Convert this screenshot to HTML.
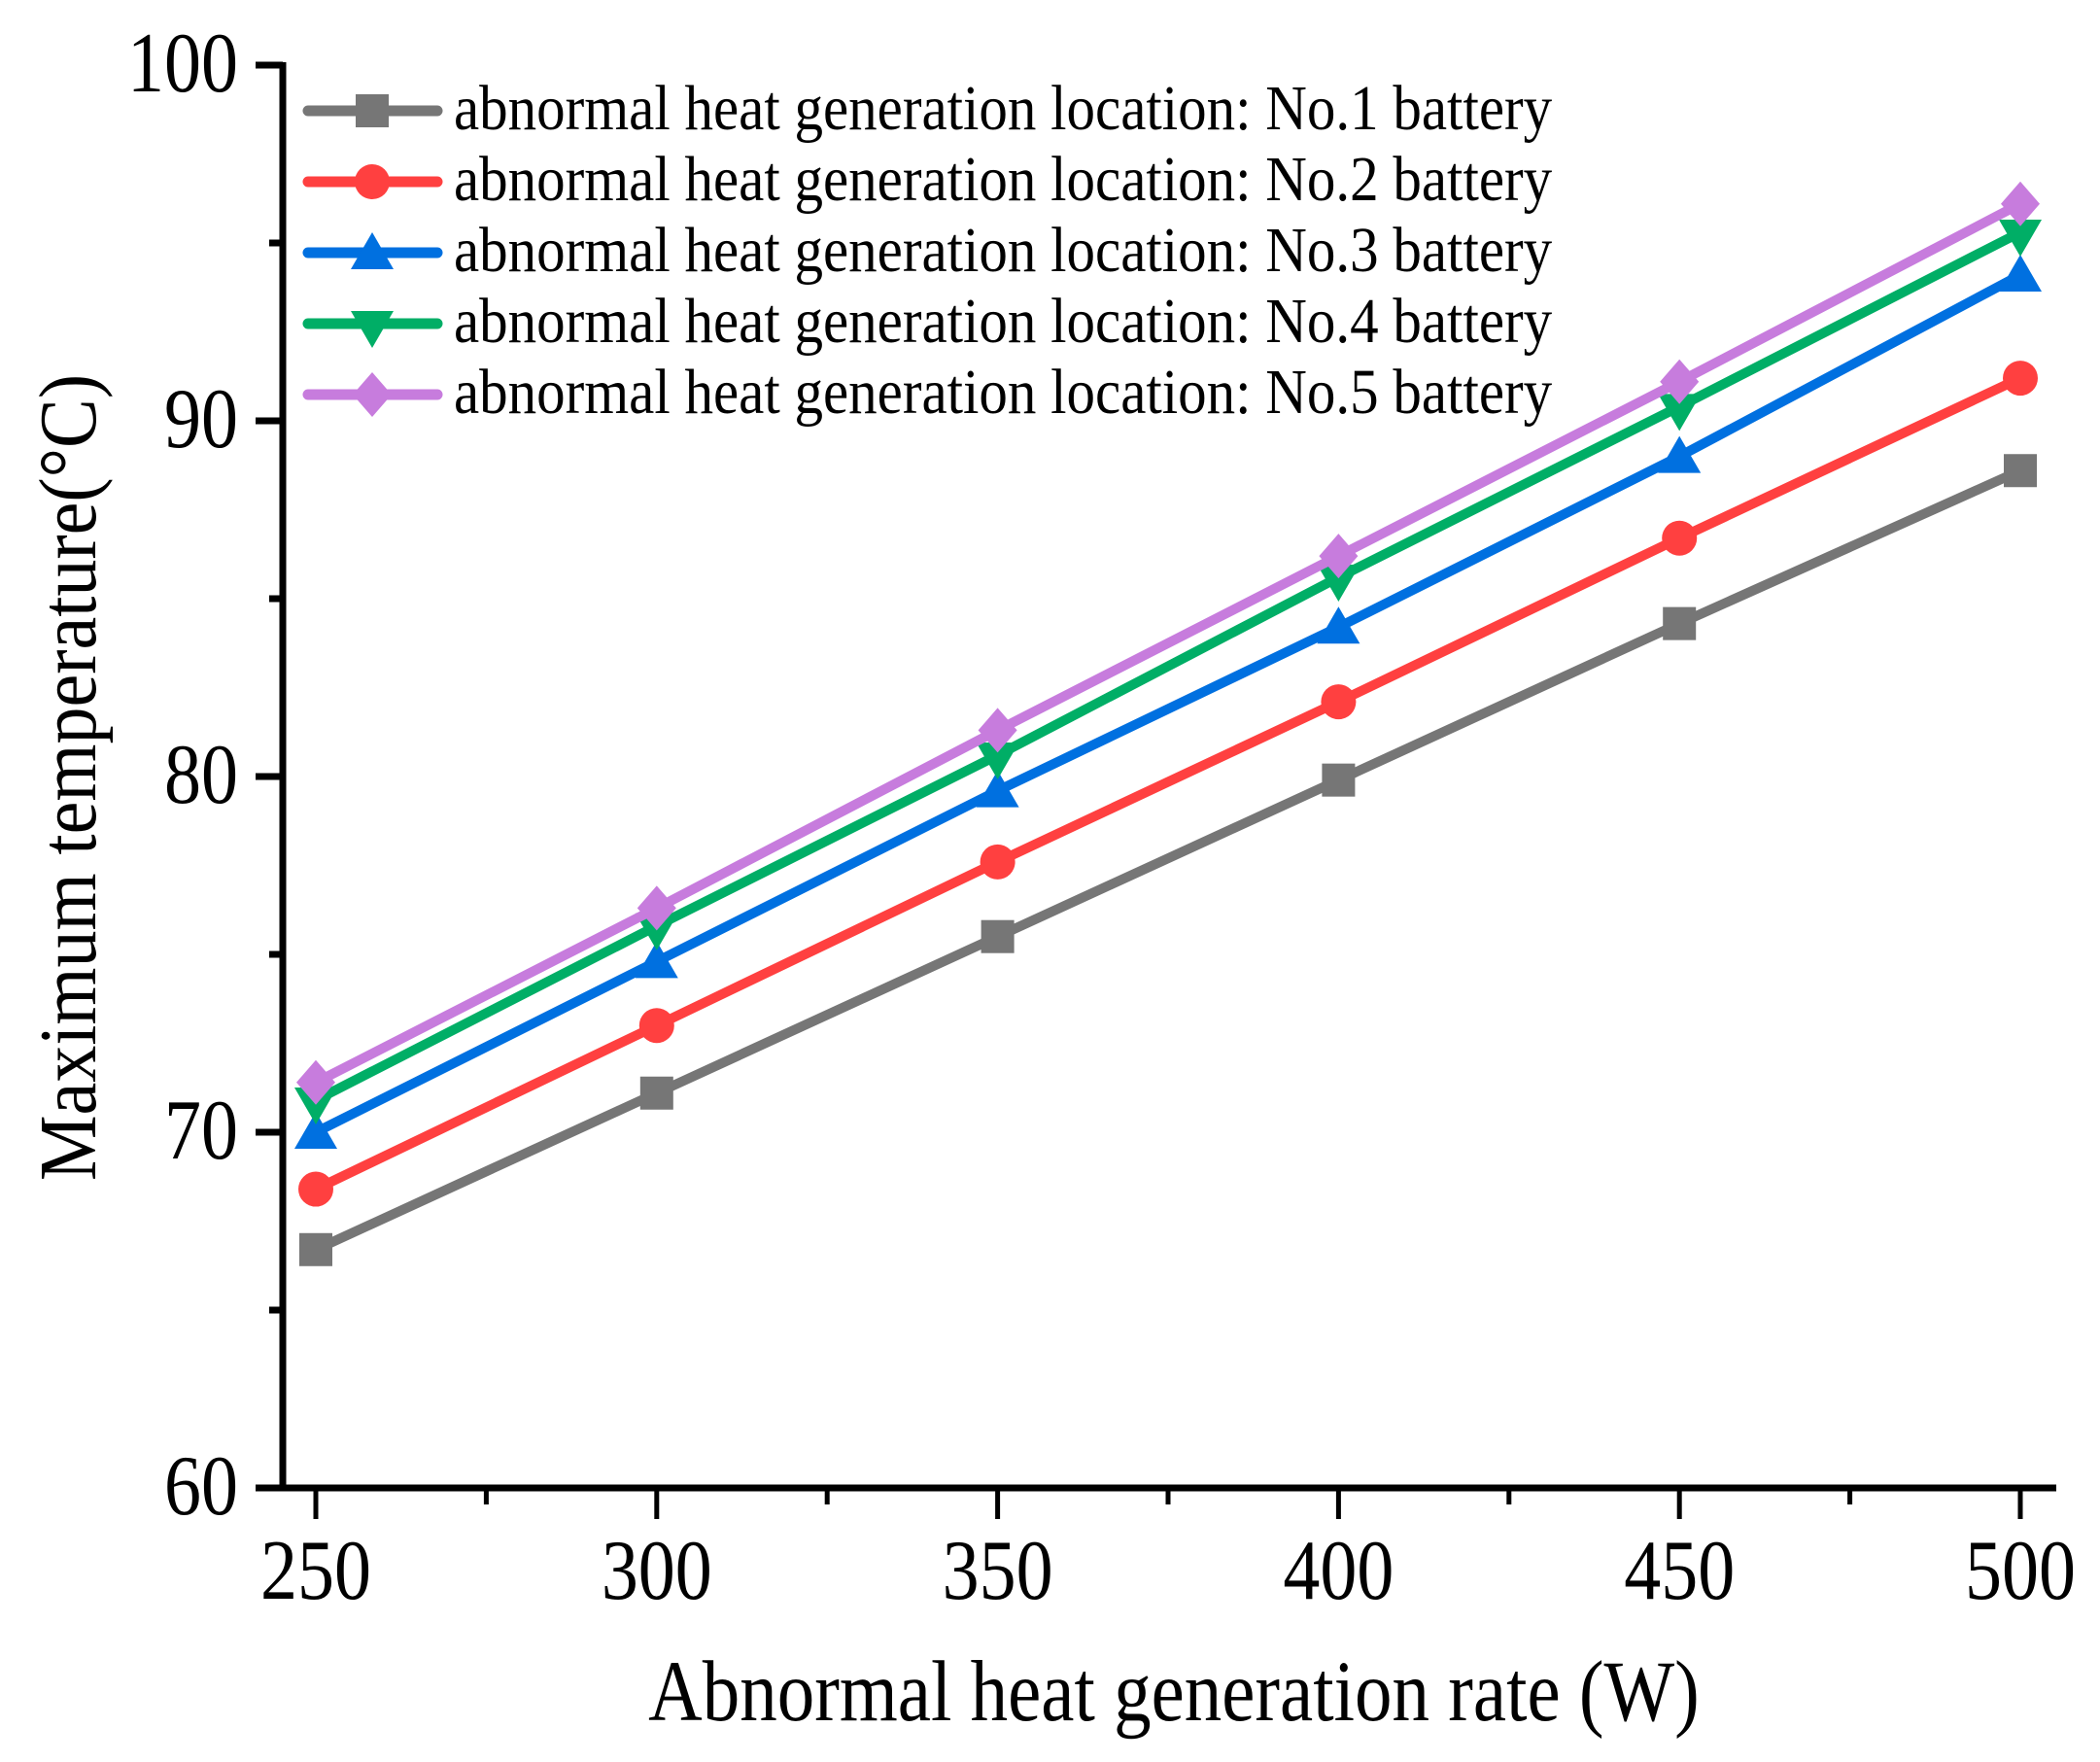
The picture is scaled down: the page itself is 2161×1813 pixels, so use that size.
<!DOCTYPE html>
<html><head><meta charset="utf-8"><style>
html,body{margin:0;padding:0;background:#fff;}
svg{display:block;}
text{font-family:"Liberation Serif",serif;fill:#000;}
</style></head><body>
<svg id="c" width="2161" height="1813" viewBox="0 0 2161 1813" xmlns="http://www.w3.org/2000/svg"></svg>
<script>
const s=document.getElementById('c');
let h='';
const X=i=>325+i*350.8, Y=v=>1531-(v-60)*36.6;
const data=[
 ['#767676','sq',[66.7,71.1,75.5,79.9,84.3,88.6]],
 ['#FF4040','ci',[68.4,73.0,77.6,82.1,86.7,91.2]],
 ['#0070E0','up',[70.0,74.8,79.6,84.2,89.0,94.1]],
 ['#00AE66','dn',[70.9,75.8,80.6,85.6,90.4,95.3]],
 ['#C77CDD','di',[71.4,76.3,81.3,86.2,91.1,96.1]]];
function mk(t,x,y,c){
 if(t=='sq')return `<rect x="${x-17}" y="${y-17}" width="34" height="34" fill="${c}"/>`;
 if(t=='ci')return `<ellipse cx="${x}" cy="${y}" rx="18" ry="18" fill="${c}"/>`;
 if(t=='up')return `<polygon points="${x},${y-21} ${x-22},${y+17} ${x+22},${y+17}" fill="${c}"/>`;
 if(t=='dn')return `<polygon points="${x},${y+25} ${x-22},${y-13} ${x+22},${y-13}" fill="${c}"/>`;
 return `<polygon points="${x},${y-23} ${x-20},${y} ${x},${y+23} ${x+20},${y}" fill="${c}"/>`;
}
function T(x,y,fs,txt,anchor,sy,rot){
 return `<text transform="translate(${x},${y})${rot?' rotate(-90)':''} scale(1,${sy})" font-size="${fs}" text-anchor="${anchor}">${txt}</text>`;
}
h+=`<line x1="291" y1="64" x2="291" y2="1534" stroke="#000" stroke-width="7"/>`;
h+=`<line x1="288" y1="1531" x2="2116" y2="1531" stroke="#000" stroke-width="7"/>`;
for(let v=60;v<=100;v+=5){const y=Y(v);const maj=v%10==0;
 h+=`<line x1="${maj?263:277}" y1="${y}" x2="291" y2="${y}" stroke="#000" stroke-width="7"/>`;
 if(maj)h+=T(245,y+27,76,v,'end',1.15);}
for(let i=0;i<=10;i++){const x=325+i*175.4;const maj=i%2==0;
 h+=`<line x1="${x}" y1="1531" x2="${x}" y2="${maj?1563:1548}" stroke="#000" stroke-width="5"/>`;
 if(maj)h+=T(x,1645,76,250+i*25,'middle',1.15);}
h+=T(1208,1770,77,'Abnormal heat generation rate (W)','middle',1.15);
h+=`<text transform="translate(98,800) rotate(-90) scale(1,1.1)" font-size="76" text-anchor="middle">Maximum temperature(°C)</text>`;
data.forEach((d,k)=>{const p=d[2].map((v,i)=>X(i)+','+Y(v)).join(' ');
 h+=`<polyline points="${p}" fill="none" stroke="${d[0]}" stroke-width="10" stroke-linejoin="round"/>`;
 d[2].forEach((v,i)=>h+=mk(d[1],X(i),Y(v),d[0]));
 const ly=114+k*73;
 h+=`<line x1="317" y1="${ly}" x2="450" y2="${ly}" stroke="${d[0]}" stroke-width="11" stroke-linecap="round"/>`;
 h+=mk(d[1],383,ly,d[0]);
 h+=T(467,ly+19,59,`abnormal heat generation location: No.${k+1} battery`,'start',1.12);
});
s.innerHTML=h;
</script>
</body></html>
